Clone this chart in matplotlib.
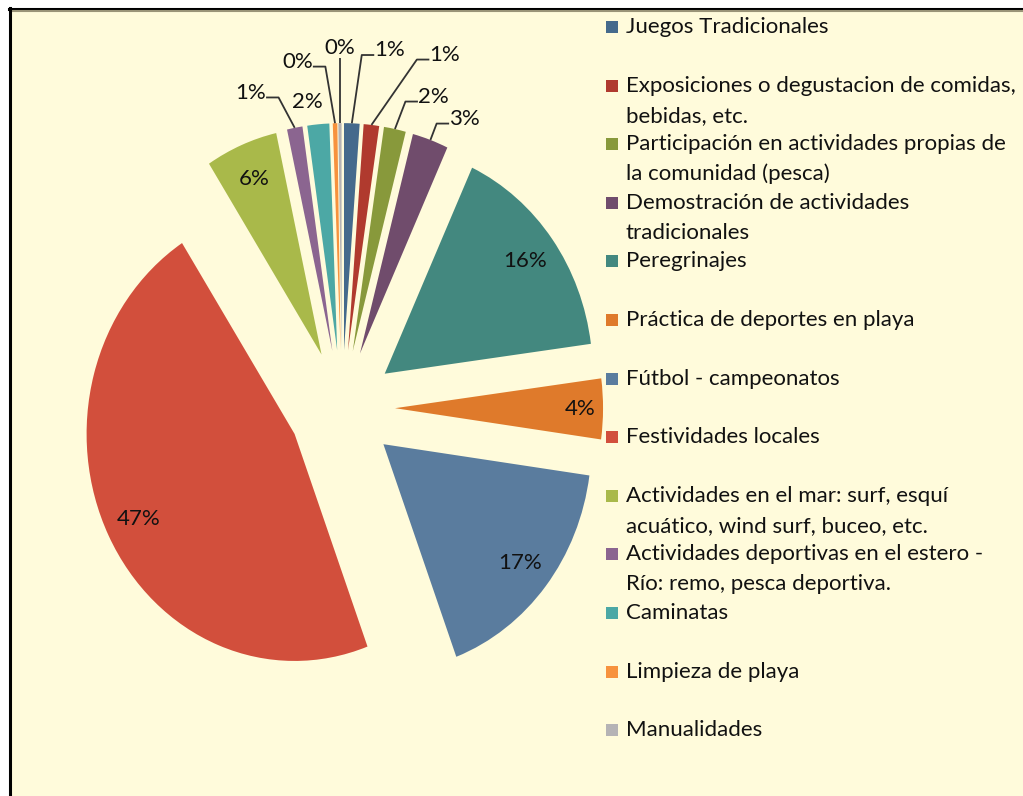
import matplotlib
matplotlib.use("Agg")
import matplotlib.pyplot as plt
from matplotlib.patches import Rectangle
import numpy as np

# datos (porcentaje de respuestas)
categorias = ["Juegos Tradicionales",
              "Exposiciones o degustacion de comidas,\nbebidas, etc.",
              "Participación en actividades propias de\nla comunidad (pesca)",
              "Demostración de actividades\ntradicionales",
              "Peregrinajes",
              "Práctica de deportes en playa",
              "Fútbol - campeonatos",
              "Festividades locales",
              "Actividades en el mar: surf, esquí\nacuático, wind surf, buceo, etc.",
              "Actividades deportivas en el estero -\nRío: remo, pesca deportiva.",
              "Caminatas",
              "Limpieza de playa",
              "Manualidades"]
valores = [1.2, 1.2, 1.7, 2.8, 16.0, 4.3, 17.1, 46.6, 5.6, 1.2, 1.7, 0.35, 0.25]
colores = ["#456A8C", "#B03A2E", "#88993B", "#704C6C", "#43887F", "#DF7A2B",
           "#5A7C9E", "#D24F3C", "#A9B94A", "#8B6590", "#4CA8A5", "#F7923D", "#B5B3B5"]

# etiquetas dentro de la porcion
dentro = [False, False, False, False, True, True, True, True, True, False, False, False, False]
# etiquetas fuera: posicion del texto (relativa al centro) y lado de la linea guia
fuera_pos = {0: (0.23, 1.575), 1: (0.495, 1.555), 2: (0.44, 1.37), 3: (0.59, 1.273),
             9: (-0.44, 1.388), 10: (-0.168, 1.348), 11: (-0.215, 1.524), 12: (-0.01, 1.586)}
fuera_lado = {0: 1, 1: 1, 2: 1, 3: 1, 9: -1, 10: None, 11: -1, 12: 0}

W, H = 1023, 796
fondo = "#FFFBDB"
fuente = "Lato"
tam = 16

fig = plt.figure(figsize=(W / 100, H / 100), dpi=100, facecolor="white")
fig.patches.append(Rectangle((10 / W, 0), 1, 1 - 10 / H, transform=fig.transFigure,
                             facecolor=fondo, edgecolor="none", zorder=-5))
ax = fig.add_axes([0, 0, 1, 1])
ax.set_facecolor("none")

wedges, _ = ax.pie(valores, colors=colores, explode=[0.255] * len(valores),
                   startangle=90, counterclock=False, radius=1,
                   wedgeprops=dict(linewidth=0))
ax.set_aspect("auto")
# centro en (342, 408) px, radio 208 px horizontal y 227 px vertical
ax.set_xlim(-342 / 208, (W - 342) / 208)
ax.set_ylim(-(H - 408) / 227, 408 / 227)
ax.axis("off")

pct = [v / sum(valores) * 100 for v in valores]
for i, w in enumerate(wedges):
    cx, cy = w.center
    ang = np.deg2rad((w.theta1 + w.theta2) / 2)
    txt = "%d%%" % round(pct[i])
    if dentro[i]:
        d = 0.89 if i == 5 else 0.84
        ax.text(cx + d * np.cos(ang), cy + d * np.sin(ang), txt, ha="center", va="center",
                fontsize=tam, family=fuente, color="#111111")
        continue
    tx, ty = fuera_pos[i]
    ax.text(tx, ty, txt, ha="center", va="center", fontsize=tam, family=fuente, color="#111111")
    lado = fuera_lado[i]
    if lado is None:
        continue
    x0, y0 = cx + np.cos(ang), cy + np.sin(ang)
    if lado == 0:
        xs, ys = [x0, x0], [y0, ty - 0.045]
    else:
        xe = tx - lado * 0.075
        xm = xe - lado * 0.06
        ye = ty - 0.02
        xs, ys = [x0, xm, xe], [y0, ye, ye]
    ax.plot(xs, ys, color="#333333", lw=1.3, solid_capstyle="butt")

# leyenda
y0 = 27
paso = 58.6
for i, (cat, col) in enumerate(zip(categorias, colores)):
    yy = y0 + paso * i
    fig.patches.append(Rectangle((606 / W, 1 - (yy + 6) / H), 12 / W, 12 / H,
                                 transform=fig.transFigure, facecolor=col, edgecolor="none"))
    for k, linea in enumerate(cat.split("\n")):
        fig.text(626 / W, 1 - (yy + 30 * k) / H, linea, ha="left", va="center",
                 fontsize=tam, family=fuente, color="#111111")

# borde del grafico
fig.add_artist(plt.Line2D([9 / W, 1], [1 - 8.5 / H] * 2, color="black", lw=2.2))
fig.add_artist(plt.Line2D([11 / W, 1], [1 - 11 / H] * 2, color="#9A9478", lw=1.5))
fig.add_artist(plt.Line2D([10 / W] * 2, [0, 1 - 7.5 / H], color="black", lw=2.2))

fig.savefig("out.png", dpi=100, facecolor=fig.get_facecolor())
